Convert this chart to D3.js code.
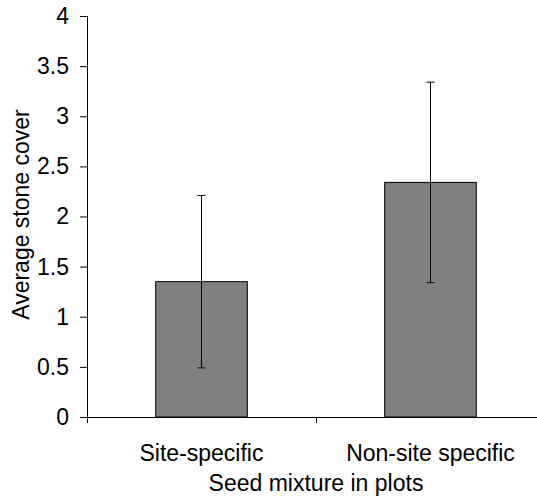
<!DOCTYPE html>
<html>
<head>
<meta charset="utf-8">
<script src="https://cdn.jsdelivr.net/npm/d3@7"></script>
<style>
  html, body { margin: 0; padding: 0; background: #fff; }
  svg { display: block; font-family: Arial, "Liberation Sans", sans-serif; }
</style>
</head>
<body>
<svg id="chart" width="537" height="497"></svg>
<script>
const categories = ["Site-specific", "Non-site specific"];
const means = [1.35, 2.34];
const errors = [0.86, 1.0];
const yTicks = [0, 0.5, 1, 1.5, 2, 2.5, 3, 3.5, 4];
const xTitle = "Seed mixture in plots";
const yTitle = "Average stone cover";

const svg = d3.select("#chart");
const mLeft = 87, mRight = 545, mTop = 16, mBottom = 417;
const fs = 23;

const x = d3.scaleBand().domain(categories).range([mLeft, mRight]).paddingInner(0.6).paddingOuter(0.3);
const y = d3.scaleLinear().domain([0, 4]).range([mBottom, mTop]);

// bars
svg.selectAll("rect.bar").data(categories).enter().append("rect")
  .attr("class", "bar")
  .attr("x", d => x(d))
  .attr("y", (d, i) => y(means[i]))
  .attr("width", x.bandwidth())
  .attr("height", (d, i) => y(0) - y(means[i]))
  .attr("fill", "#808080")
  .attr("stroke", "#000")
  .attr("stroke-width", 1);

// error bars
const eb = svg.selectAll("g.err").data(categories).enter().append("g").attr("class", "err");
eb.append("line")
  .attr("x1", d => x(d) + x.bandwidth() / 2).attr("x2", d => x(d) + x.bandwidth() / 2)
  .attr("y1", (d, i) => y(means[i] - errors[i])).attr("y2", (d, i) => y(means[i] + errors[i]))
  .attr("stroke", "#000").attr("stroke-width", 1);
[1, -1].forEach(s => {
  eb.append("line")
    .attr("x1", d => x(d) + x.bandwidth() / 2 - 4).attr("x2", d => x(d) + x.bandwidth() / 2 + 4)
    .attr("y1", (d, i) => y(means[i] + s * errors[i])).attr("y2", (d, i) => y(means[i] + s * errors[i]))
    .attr("stroke", "#000").attr("stroke-width", 1);
});

// y axis
const yAxis = svg.append("g").attr("transform", `translate(${mLeft},0)`)
  .call(d3.axisLeft(y).tickValues(yTicks).tickSize(7).tickPadding(11).tickFormat(d3.format("")));
yAxis.select(".domain").attr("stroke", "#000").attr("d", `M0.5,${mTop}V${mBottom}`);
yAxis.selectAll(".tick line").attr("stroke", "#000");
yAxis.selectAll("text").attr("font-size", fs).attr("fill", "#000")
  .attr("font-family", "Arial, 'Liberation Sans', sans-serif");

// x axis
const xAxis = svg.append("g").attr("transform", `translate(0,${mBottom})`);
xAxis.append("line").attr("x1", mLeft).attr("x2", mRight).attr("y1", 0.5).attr("y2", 0.5).attr("stroke", "#000");
const boundaries = [mLeft, (x(categories[0]) + x.bandwidth() + x(categories[1])) / 2, mRight];
xAxis.selectAll("line.tk").data(boundaries).enter().append("line")
  .attr("class", "tk")
  .attr("x1", d => Math.round(d) + 0.5).attr("x2", d => Math.round(d) + 0.5)
  .attr("y1", 0).attr("y2", 6).attr("stroke", "#000");
xAxis.selectAll("text.cat").data(categories).enter().append("text")
  .attr("class", "cat")
  .attr("x", d => x(d) + x.bandwidth() / 2)
  .attr("y", 44)
  .attr("text-anchor", "middle")
  .attr("font-size", fs)
  .text(d => d);

svg.append("text")
  .attr("x", boundaries[1]).attr("y", 491)
  .attr("text-anchor", "middle").attr("font-size", fs)
  .text(xTitle);

svg.append("text")
  .attr("transform", `translate(29,${y(2) - 2}) rotate(-90)`)
  .attr("text-anchor", "middle").attr("font-size", fs)
  .text(yTitle);
</script>
</body>
</html>
